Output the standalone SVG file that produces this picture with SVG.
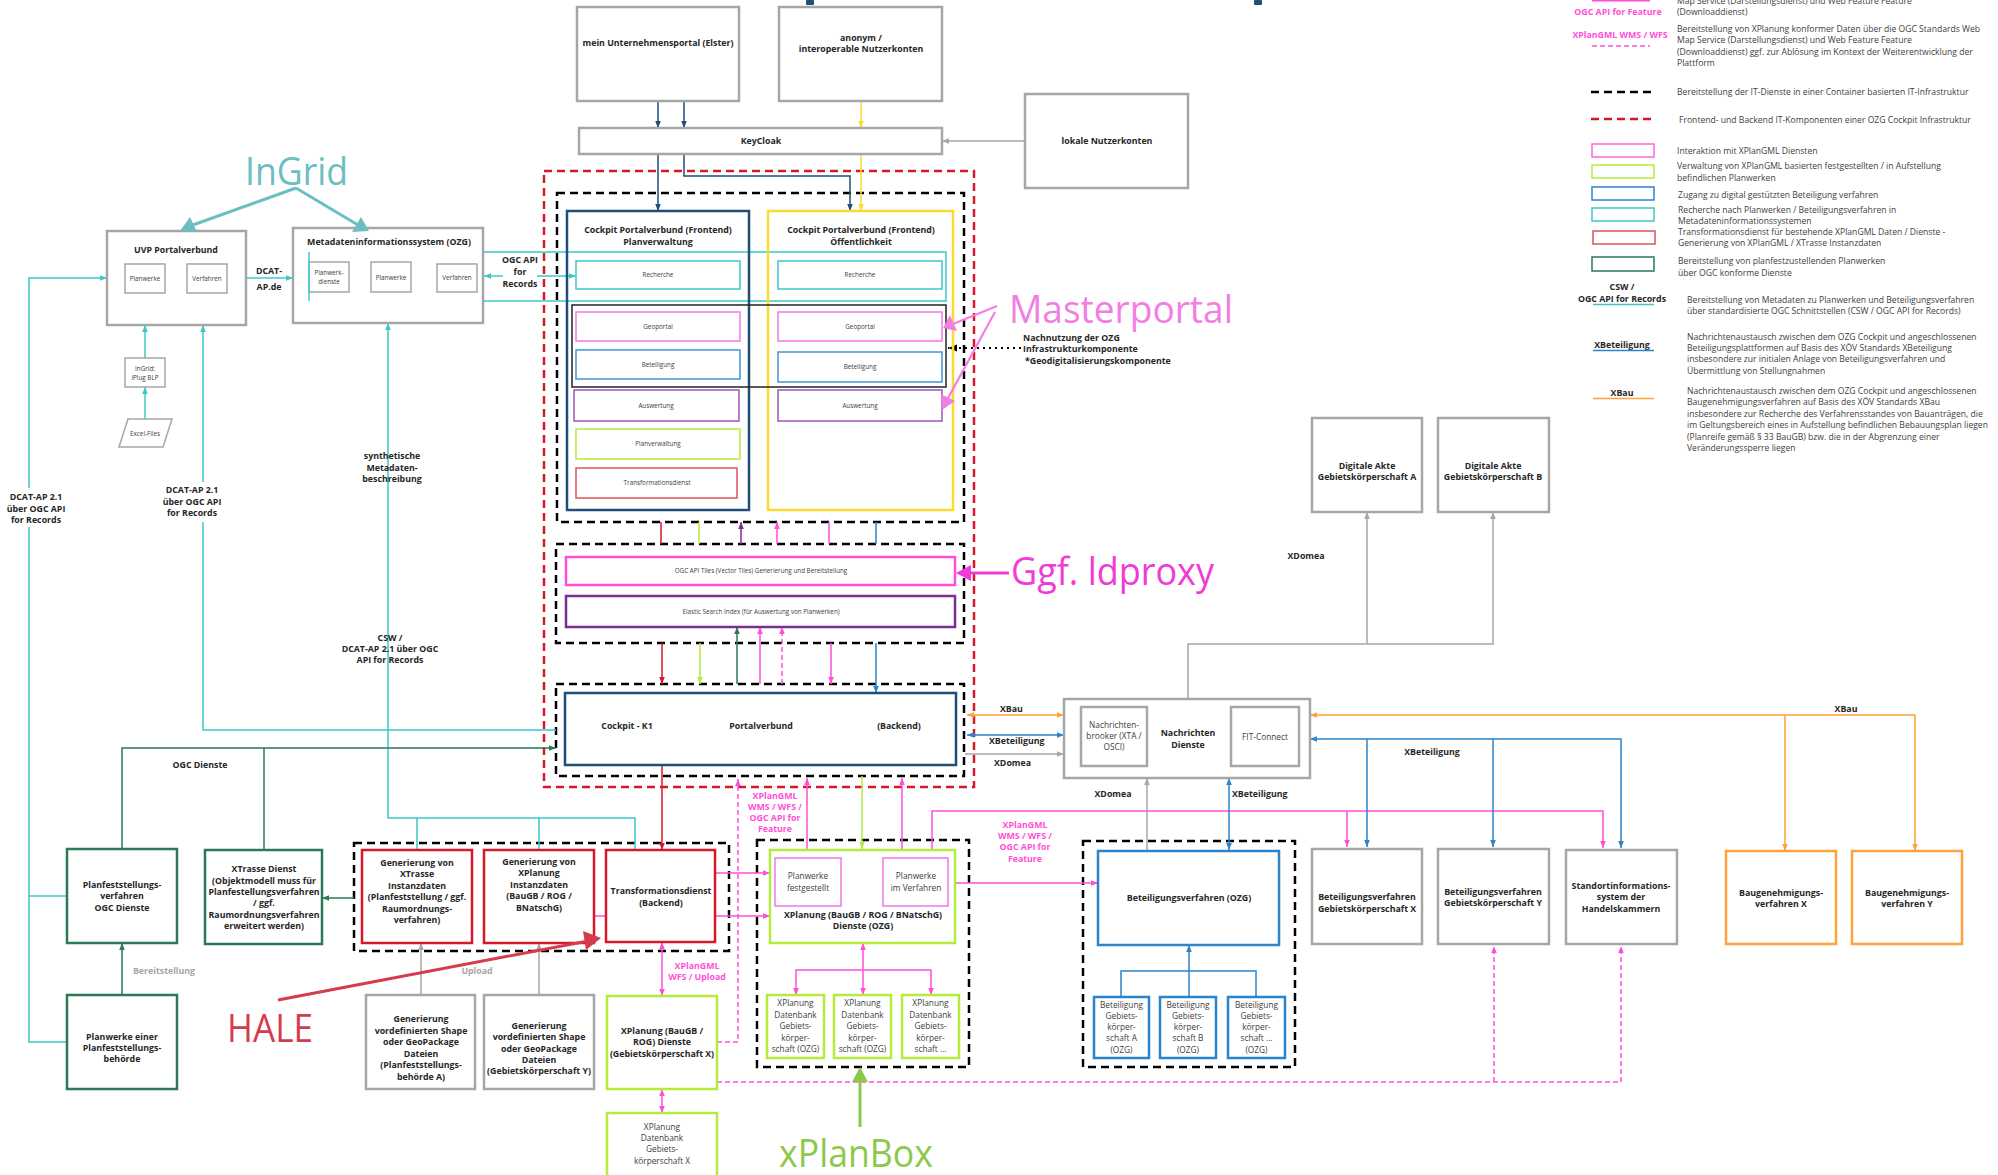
<svg xmlns="http://www.w3.org/2000/svg" width="1998" height="1175" viewBox="0 0 1998 1175">
<style>
text{font-family:"Open Sans","DejaVu Sans",sans-serif;fill:#262626}
.b{font-weight:700;font-size:8.8px;text-anchor:middle}
.bl{font-weight:700;font-size:8.8px}
.s{font-size:6.3px;text-anchor:middle;fill:#404040}
.m{font-size:8.3px;text-anchor:middle;fill:#404040}
.lg{font-size:8.6px;fill:#404040}
.mg{fill:#ff4fd8}
.gy{fill:#a6a6a6}
.box{fill:#fff;stroke-width:2.5}
.thin{fill:#fff;stroke-width:1.5}
.gray{stroke:#a6a6a6}
.db{stroke:#1f4e79}
.yel{stroke:#ffd92e}
.cy{stroke:#3cc8c8}
.pk{stroke:#f07ae6}
.mag{stroke:#ff4fd8}
.bl2{stroke:#2a85cc}
.pur{stroke:#9c55b5}
.lime{stroke:#b5ec3c}
.red{stroke:#d7182a}
.lred{stroke:#e0505f}
.grn{stroke:#2b7a57}
.org{stroke:#ffa23a}
.dash{fill:none;stroke:#000;stroke-width:2.5;stroke-dasharray:8,5}
.rdash{fill:none;stroke:#d7182a;stroke-width:2.5;stroke-dasharray:8,5}
.c{fill:none;stroke-width:1.5}
.big{font-size:38px}
</style>
<defs>
<marker id="aDB" viewBox="0 0 10 10" refX="10" refY="5" markerWidth="7" markerHeight="7" markerUnits="userSpaceOnUse" orient="auto-start-reverse"><path d="M0,1L10,5L0,9z" fill="#1f4e79"/></marker>
<marker id="aY" viewBox="0 0 10 10" refX="10" refY="5" markerWidth="7" markerHeight="7" markerUnits="userSpaceOnUse" orient="auto-start-reverse"><path d="M0,1L10,5L0,9z" fill="#ffd92e"/></marker>
<marker id="aG" viewBox="0 0 10 10" refX="10" refY="5" markerWidth="7" markerHeight="7" markerUnits="userSpaceOnUse" orient="auto-start-reverse"><path d="M0,1L10,5L0,9z" fill="#a6a6a6"/></marker>
<marker id="aC" viewBox="0 0 10 10" refX="10" refY="5" markerWidth="7" markerHeight="7" markerUnits="userSpaceOnUse" orient="auto-start-reverse"><path d="M0,1L10,5L0,9z" fill="#3cc8c8"/></marker>
<marker id="aM" viewBox="0 0 10 10" refX="10" refY="5" markerWidth="7" markerHeight="7" markerUnits="userSpaceOnUse" orient="auto-start-reverse"><path d="M0,1L10,5L0,9z" fill="#ff4fd8"/></marker>
<marker id="aR" viewBox="0 0 10 10" refX="10" refY="5" markerWidth="7" markerHeight="7" markerUnits="userSpaceOnUse" orient="auto-start-reverse"><path d="M0,1L10,5L0,9z" fill="#d7182a"/></marker>
<marker id="aL" viewBox="0 0 10 10" refX="10" refY="5" markerWidth="7" markerHeight="7" markerUnits="userSpaceOnUse" orient="auto-start-reverse"><path d="M0,1L10,5L0,9z" fill="#b5ec3c"/></marker>
<marker id="aP" viewBox="0 0 10 10" refX="10" refY="5" markerWidth="7" markerHeight="7" markerUnits="userSpaceOnUse" orient="auto-start-reverse"><path d="M0,1L10,5L0,9z" fill="#7b2f8f"/></marker>
<marker id="aDG" viewBox="0 0 10 10" refX="10" refY="5" markerWidth="7" markerHeight="7" markerUnits="userSpaceOnUse" orient="auto-start-reverse"><path d="M0,1L10,5L0,9z" fill="#2b7a57"/></marker>
<marker id="aB" viewBox="0 0 10 10" refX="10" refY="5" markerWidth="7" markerHeight="7" markerUnits="userSpaceOnUse" orient="auto-start-reverse"><path d="M0,1L10,5L0,9z" fill="#2a85cc"/></marker>
<marker id="aO" viewBox="0 0 10 10" refX="10" refY="5" markerWidth="7" markerHeight="7" markerUnits="userSpaceOnUse" orient="auto-start-reverse"><path d="M0,1L10,5L0,9z" fill="#ffa23a"/></marker>
<marker id="aK" viewBox="0 0 10 10" refX="10" refY="5" markerWidth="9" markerHeight="9" markerUnits="userSpaceOnUse" orient="auto-start-reverse"><path d="M0,1L10,5L0,9z" fill="#000"/></marker>
</defs>
<rect width="1998" height="1175" fill="#fff"/>
<rect x="806" y="0" width="8" height="5" rx="1" fill="#1f4e79"/>
<rect x="1254" y="0" width="8" height="5" rx="1" fill="#1f4e79"/>

<!-- containers -->
<g id="containers">
<rect class="rdash" x="544" y="171" width="430" height="616"/>
<rect class="dash" x="557" y="193" width="407" height="329"/>
<rect class="dash" x="556" y="544" width="408" height="99"/>
<rect class="dash" x="556" y="684" width="408" height="92"/>
<rect class="dash" x="354" y="843" width="375" height="108"/>
<rect class="dash" x="757" y="840" width="212" height="227"/>
<rect class="dash" x="1083" y="841" width="212" height="226"/>
</g>

<!-- connectors -->
<g id="connectors">
<path class="c db" d="M658,101V128" marker-end="url(#aDB)"/>
<path class="c db" d="M684,101V128" marker-end="url(#aDB)"/>
<path class="c yel" d="M861,101V128" marker-end="url(#aY)"/>
<path class="c gray" d="M1025,141H942" marker-end="url(#aG)"/>
<path class="c db" d="M658,154V211" marker-end="url(#aDB)"/>
<path class="c db" d="M684,154V176H850V211" marker-end="url(#aDB)"/>
<path class="c yel" d="M861,154V211" marker-end="url(#aY)"/>
<rect x="309" y="252" width="637" height="49" class="c cy"/>
<path class="c cy" d="M246,278H293" marker-end="url(#aC)"/>
<path class="c cy" d="M484,276H576" marker-start="url(#aC)" marker-end="url(#aC)"/>
<path class="c cy" d="M67,1042H29V278H107" marker-end="url(#aC)"/>
<path class="c cy" d="M29,896H67"/>
<path class="c cy" d="M145,419V387" marker-end="url(#aC)"/>
<path class="c cy" d="M145,358V325" marker-end="url(#aC)"/>
<path class="c cy" d="M556,730H203V325" marker-end="url(#aC)"/>
<path class="c cy" d="M635,850V818H388V323" marker-end="url(#aC)"/>
<path class="c cy" d="M417,818V850M539,818V850"/>
<path class="c grn" d="M122,849V748H556" marker-end="url(#aDG)"/>
<path class="c grn" d="M264,850V748"/>
<path class="c grn" d="M122,995V943" marker-end="url(#aDG)"/>
<path class="c grn" d="M354,898H322" marker-end="url(#aDG)"/>
<path class="c gray" d="M421,995V943" marker-end="url(#aG)"/>
<path class="c gray" d="M539,995V943" marker-end="url(#aG)"/>
<path class="c red" d="M661,522V544"/>
<path class="c lime" d="M699,522V544"/>
<path class="c" stroke="#7b2f8f" d="M741,544V522" marker-end="url(#aP)"/>
<path class="c mag" d="M777,544V522" marker-end="url(#aM)"/>
<path class="c mag" d="M829,522V544"/>
<path class="c bl2" d="M876,522V544"/>
<path class="c red" d="M662,643V684" marker-end="url(#aR)"/>
<path class="c lime" d="M700,643V684" marker-end="url(#aL)"/>
<path class="c grn" d="M737,684V627" marker-end="url(#aDG)"/>
<path class="c mag" d="M760,684V627" marker-end="url(#aM)"/>
<path class="c mag" stroke-dasharray="5,3" d="M782,684V627" marker-end="url(#aM)"/>
<path class="c mag" d="M831,643V684" marker-end="url(#aM)"/>
<path class="c bl2" d="M876,643V693" marker-end="url(#aB)"/>
<path class="c red" d="M662,765V850" marker-end="url(#aR)"/>
<path class="c mag" stroke-dasharray="5,3" d="M717,1042H738V779" marker-end="url(#aM)"/>
<path class="c mag" d="M807,858V778" marker-end="url(#aM)"/>
<path class="c mag" d="M902,858V778" marker-end="url(#aM)"/>
<path class="c lime" d="M862,776V849" marker-end="url(#aL)"/>
<path class="c mag" d="M715,873H770" marker-end="url(#aM)"/>
<path class="c mag" d="M715,916H770" marker-end="url(#aM)"/>
<path class="c mag" d="M594,916H606"/>
<path class="c mag" d="M662,942V996" marker-start="url(#aM)" marker-end="url(#aM)"/>
<path class="c mag" d="M662,1089V1113" marker-start="url(#aM)" marker-end="url(#aM)"/>
<path class="c mag" d="M932,858V811H1603V848" marker-end="url(#aM)"/>
<path class="c mag" d="M1347,811V847" marker-end="url(#aM)"/>
<path class="c mag" d="M948,883H1098" marker-end="url(#aM)"/>
<path class="c mag" stroke-dasharray="5,3" d="M717,1082H1621V946" marker-end="url(#aM)"/>
<path class="c mag" stroke-dasharray="5,3" d="M1494,1082V946" marker-end="url(#aM)"/>
<path class="c mag" d="M863,943V995" marker-start="url(#aM)" marker-end="url(#aM)"/>
<path class="c mag" d="M863,970H796V995" marker-end="url(#aM)"/>
<path class="c mag" d="M863,970H931V995" marker-end="url(#aM)"/>
<path class="c gray" d="M1188,699V644H1493V512" marker-end="url(#aG)"/>
<path class="c gray" d="M1367,644V512" marker-end="url(#aG)"/>
<path class="c org" d="M967,715H1064" marker-start="url(#aO)" marker-end="url(#aO)"/>
<path class="c bl2" d="M967,735H1064" marker-start="url(#aB)" marker-end="url(#aB)"/>
<path class="c gray" d="M965,754H1064" marker-end="url(#aG)"/>
<path class="c org" d="M1310,715H1915V851" marker-start="url(#aO)" marker-end="url(#aO)"/>
<path class="c org" d="M1785,715V851" marker-end="url(#aO)"/>
<path class="c bl2" d="M1310,739H1621V848" marker-start="url(#aB)" marker-end="url(#aB)"/>
<path class="c bl2" d="M1367,739V847" marker-end="url(#aB)"/>
<path class="c bl2" d="M1493,739V847" marker-end="url(#aB)"/>
<path class="c bl2" d="M1229,778V850" marker-start="url(#aB)" marker-end="url(#aB)"/>
<path class="c gray" d="M1147,851V778" marker-end="url(#aG)"/>
<path class="c bl2" d="M1121,997V971H1256V997"/>
<path class="c bl2" d="M1189,997V945" marker-end="url(#aB)"/>
<path fill="none" stroke="#000" stroke-width="2.2" stroke-dasharray="2,4" d="M1021,348H948" marker-end="url(#aK)"/>
</g>

<!-- connector labels -->
<g id="labels">
<text class="b" x="269" y="274">DCAT-</text><text class="b" x="269" y="290">AP.de</text>
<rect x="503" y="253" width="34" height="37" fill="#fff"/>
<text class="b" x="520" y="263">OGC API</text><text class="b" x="520" y="275">for</text><text class="b" x="520" y="287">Records</text>
<rect x="4" y="488" width="64" height="39" fill="#fff"/>
<text class="b" x="36" y="500">DCAT-AP 2.1</text><text class="b" x="36" y="512">über OGC API</text><text class="b" x="36" y="523">for Records</text>
<rect x="160" y="482" width="64" height="40" fill="#fff"/>
<text class="b" x="192" y="493">DCAT-AP 2.1</text><text class="b" x="192" y="505">über OGC API</text><text class="b" x="192" y="516">for Records</text>
<text class="b" x="392" y="459">synthetische</text><text class="b" x="392" y="471">Metadaten-</text><text class="b" x="392" y="482">beschreibung</text>
<text class="b" x="390" y="641">CSW /</text><text class="b" x="390" y="652">DCAT-AP 2.1 über OGC</text><text class="b" x="390" y="663">API for Records</text>
<text class="b" x="200" y="768">OGC Dienste</text>
<text class="b gy" x="164" y="974">Bereitstellung</text>
<text class="b gy" x="477" y="974">Upload</text>
<text class="b mg" x="775" y="799">XPlanGML</text><text class="b mg" x="775" y="810">WMS / WFS /</text><text class="b mg" x="775" y="821">OGC API for</text><text class="b mg" x="775" y="832">Feature</text>
<text class="b mg" x="697" y="969">XPlanGML</text><text class="b mg" x="697" y="980">WFS / Upload</text>
<text class="b mg" x="1025" y="828">XPlanGML</text><text class="b mg" x="1025" y="839">WMS / WFS /</text><text class="b mg" x="1025" y="850">OGC API for</text><text class="b mg" x="1025" y="862">Feature</text>
<text class="bl" x="1000" y="712">XBau</text>
<text class="bl" x="989" y="744">XBeteiligung</text>
<text class="bl" x="994" y="766">XDomea</text>
<text class="b" x="1306" y="559">XDomea</text>
<text class="b" x="1846" y="712">XBau</text>
<text class="b" x="1432" y="755">XBeteiligung</text>
<text class="bl" x="1232" y="797">XBeteiligung</text>
<text class="b" x="1113" y="797">XDomea</text>
<text class="bl" x="1023" y="341">Nachnutzung der OZG</text>
<text class="bl" x="1023" y="352">Infrastrukturkomponente</text>
<text class="bl" x="1025" y="364">*Geodigitalisierungskomponente</text>
</g>

<!-- nodes -->
<g id="elster"><rect class="box gray" x="577" y="7" width="162" height="94"/><text class="b" x="658" y="46">mein Unternehmensportal (Elster)</text></g>
<g id="anonym"><rect class="box gray" x="779" y="7" width="163" height="94"/><text class="b" x="861" y="41">anonym /</text><text class="b" x="861" y="52">interoperable Nutzerkonten</text></g>
<g id="keycloak"><rect class="box gray" x="579" y="128" width="363" height="26"/><text class="b" x="761" y="144">KeyCloak</text></g>
<g id="lokale"><rect class="box gray" x="1025" y="94" width="163" height="94"/><text class="b" x="1107" y="144">lokale Nutzerkonten</text></g>

<g id="uvp"><rect class="box gray" x="107" y="231" width="139" height="94"/><text class="b" x="176" y="253">UVP Portalverbund</text>
<rect class="thin gray" x="125" y="264" width="40" height="29"/><text class="s" x="145" y="281">Planwerke</text>
<rect class="thin gray" x="187" y="264" width="40" height="29"/><text class="s" x="207" y="281">Verfahren</text></g>
<g id="metadaten"><rect class="box gray" x="293" y="228" width="190" height="95"/><text class="b" x="389" y="245">Metadateninformationssystem (OZG)</text>
<rect class="thin gray" x="309" y="262" width="40" height="30"/><text class="s" x="329" y="275">Planwerk-</text><text class="s" x="329" y="284">dienste</text>
<rect class="thin gray" x="371" y="262" width="40" height="30"/><text class="s" x="391" y="280">Planwerke</text>
<rect class="thin gray" x="437" y="264" width="40" height="28"/><text class="s" x="457" y="280">Verfahren</text>
<path class="c cy" d="M309,252V301"/></g>
<g id="iplug"><rect class="thin gray" x="125" y="358" width="40" height="29"/><text class="s" x="145" y="371">InGrid:</text><text class="s" x="145" y="380">iPlug BLP</text></g>
<g id="excel"><polygon class="thin gray" points="128,419 172,419 163,447 119,447"/><text class="s" x="145" y="436">Excel-Files</text></g>

<g id="fe-plan"><rect class="box db" x="567" y="211" width="182" height="299" style="fill:none"/><text class="b" x="658" y="233">Cockpit Portalverbund (Frontend)</text><text class="b" x="658" y="245">Planverwaltung</text></g>
<g id="fe-oeff"><rect class="box yel" x="768" y="211" width="185" height="299" style="fill:none"/><text class="b" x="861" y="233">Cockpit Portalverbund (Frontend)</text><text class="b" x="861" y="245">Öffentlichkeit</text></g>
<g id="recherche"><rect class="thin cy" x="576" y="261" width="164" height="28"/><text class="s" x="658" y="277">Recherche</text>
<rect class="thin cy" x="778" y="261" width="164" height="28"/><text class="s" x="860" y="277">Recherche</text></g>
<g id="geo-group"><rect fill="none" stroke="#222" stroke-width="1.5" x="572" y="305" width="374" height="82"/></g>
<g id="geoportal"><rect class="thin pk" x="576" y="312" width="164" height="29"/><text class="s" x="658" y="329">Geoportal</text>
<rect class="thin pk" x="778" y="312" width="164" height="29"/><text class="s" x="860" y="329">Geoportal</text></g>
<g id="beteiligung"><rect class="thin" stroke="#3f95d4" x="576" y="350" width="164" height="29"/><text class="s" x="658" y="367">Beteiligung</text>
<rect class="thin" stroke="#3f95d4" x="778" y="352" width="164" height="30"/><text class="s" x="860" y="369">Beteiligung</text></g>
<g id="auswertung"><rect class="thin pur" x="574" y="390" width="165" height="31"/><text class="s" x="656" y="408">Auswertung</text>
<rect class="thin pur" x="778" y="390" width="164" height="31"/><text class="s" x="860" y="408">Auswertung</text></g>
<g id="planverwaltung"><rect class="thin lime" x="576" y="429" width="164" height="30"/><text class="s" x="658" y="446">Planverwaltung</text></g>
<g id="trans-fe"><rect class="thin lred" x="576" y="468" width="161" height="30"/><text class="s" x="657" y="485">Transformationsdienst</text></g>
<g id="tiles"><rect class="box mag" x="566" y="557" width="389" height="28"/><text class="s" x="761" y="573">OGC API Tiles (Vector Tiles) Generierung und Bereitstellung</text></g>
<g id="elastic"><rect class="box" stroke="#7b2f8f" x="566" y="596" width="389" height="31"/><text class="s" x="761" y="614">Elastic Search Index (für Auswertung von Planwerken)</text></g>
<g id="cockpit-k1"><rect class="box db" x="565" y="693" width="391" height="72"/><text class="b" x="627" y="729">Cockpit - K1</text><text class="b" x="761" y="729">Portalverbund</text><text class="b" x="899" y="729">(Backend)</text></g>

<g id="gen-xtrasse"><rect class="box red" x="362" y="850" width="110" height="93"/>
<text class="b" x="417" y="866">Generierung von</text><text class="b" x="417" y="877">XTrasse</text><text class="b" x="417" y="889">Instanzdaten</text><text class="b" x="417" y="900">(Planfeststellung / ggf.</text><text class="b" x="417" y="912">Raumordnungs-</text><text class="b" x="417" y="923">verfahren)</text></g>
<g id="gen-xplanung"><rect class="box red" x="484" y="850" width="110" height="93"/>
<text class="b" x="539" y="865">Generierung von</text><text class="b" x="539" y="876">XPlanung</text><text class="b" x="539" y="888">Instanzdaten</text><text class="b" x="539" y="899">(BauGB / ROG /</text><text class="b" x="539" y="911">BNatschG)</text></g>
<g id="trans-be"><rect class="box red" x="606" y="850" width="109" height="92"/><text class="b" x="661" y="894">Transformationsdienst</text><text class="b" x="661" y="906">(Backend)</text></g>
<g id="xtrasse-dienst"><rect class="box grn" x="205" y="850" width="117" height="94"/>
<text class="b" x="264" y="872">XTrasse Dienst</text><text class="b" x="264" y="884">(Objektmodell muss für</text><text class="b" x="264" y="895">Planfestellungsverfahren</text><text class="b" x="264" y="906">/ ggf.</text><text class="b" x="264" y="918">Raumordnungsverfahren</text><text class="b" x="264" y="929">erweitert werden)</text></g>
<g id="planfest"><rect class="box grn" x="67" y="849" width="110" height="94"/><text class="b" x="122" y="888">Planfeststellungs-</text><text class="b" x="122" y="899">verfahren</text><text class="b" x="122" y="911">OGC Dienste</text></g>
<g id="planwerke-behoerde"><rect class="box grn" x="67" y="995" width="110" height="94"/><text class="b" x="122" y="1040">Planwerke einer</text><text class="b" x="122" y="1051">Planfeststellungs-</text><text class="b" x="122" y="1062">behörde</text></g>
<g id="shape-a"><rect class="box gray" x="366" y="995" width="109" height="94"/>
<text class="b" x="421" y="1022">Generierung</text><text class="b" x="421" y="1034">vordefinierten Shape</text><text class="b" x="421" y="1045">oder GeoPackage</text><text class="b" x="421" y="1057">Dateien</text><text class="b" x="421" y="1068">(Planfeststellungs-</text><text class="b" x="421" y="1080">behörde A)</text></g>
<g id="shape-y"><rect class="box gray" x="484" y="995" width="110" height="94"/>
<text class="b" x="539" y="1029">Generierung</text><text class="b" x="539" y="1040">vordefinierten Shape</text><text class="b" x="539" y="1052">oder GeoPackage</text><text class="b" x="539" y="1063">Dateien</text><text class="b" x="539" y="1074">(Gebietskörperschaft Y)</text></g>
<g id="xplanung-x"><rect class="box lime" x="607" y="996" width="110" height="93"/><text class="b" x="662" y="1034">XPlanung  (BauGB /</text><text class="b" x="662" y="1045">ROG) Dienste</text><text class="b" x="662" y="1057">(Gebietskörperschaft X)</text></g>
<g id="xplanung-db-x"><rect class="box lime" x="607" y="1113" width="110" height="64"/><text class="m" x="662" y="1130">XPlanung</text><text class="m" x="662" y="1141">Datenbank</text><text class="m" x="662" y="1152">Gebiets-</text><text class="m" x="662" y="1164">körperschaft X</text></g>
<g id="xplanung-ozg"><rect class="box lime" x="770" y="850" width="185" height="93"/><text class="b" x="863" y="918">XPlanung  (BauGB / ROG / BNatschG)</text><text class="b" x="863" y="929">Dienste (OZG)</text></g>
<g id="pw-fest"><rect class="thin pk" x="775" y="858" width="66" height="48"/><text class="m" x="808" y="879">Planwerke</text><text class="m" x="808" y="891">festgestellt</text></g>
<g id="pw-verf"><rect class="thin pk" x="883" y="858" width="65" height="48"/><text class="m" x="916" y="879">Planwerke</text><text class="m" x="916" y="891">im Verfahren</text></g>
<g id="db1"><rect class="box lime" x="767" y="995" width="57" height="63"/><text class="m" x="795.5" y="1006">XPlanung</text><text class="m" x="795.5" y="1018">Datenbank</text><text class="m" x="795.5" y="1029">Gebiets-</text><text class="m" x="795.5" y="1041">körper-</text><text class="m" x="795.5" y="1052">schaft (OZG)</text></g>
<g id="db2"><rect class="box lime" x="834" y="995" width="57" height="63"/><text class="m" x="862.5" y="1006">XPlanung</text><text class="m" x="862.5" y="1018">Datenbank</text><text class="m" x="862.5" y="1029">Gebiets-</text><text class="m" x="862.5" y="1041">körper-</text><text class="m" x="862.5" y="1052">schaft (OZG)</text></g>
<g id="db3"><rect class="box lime" x="902" y="995" width="57" height="63"/><text class="m" x="930.5" y="1006">XPlanung</text><text class="m" x="930.5" y="1018">Datenbank</text><text class="m" x="930.5" y="1029">Gebiets-</text><text class="m" x="930.5" y="1041">körper-</text><text class="m" x="930.5" y="1052">schaft ...</text></g>

<g id="nachrichten"><rect class="box gray" x="1064" y="699" width="246" height="79"/><text class="b" x="1188" y="736">Nachrichten</text><text class="b" x="1188" y="748">Dienste</text>
<rect class="box gray" x="1081" y="707" width="66" height="59"/><text class="m" x="1114" y="728">Nachrichten-</text><text class="m" x="1114" y="739">brooker (XTA /</text><text class="m" x="1114" y="750">OSCI)</text>
<rect class="box gray" x="1231" y="707" width="68" height="59"/><text class="m" x="1265" y="740">FIT-Connect</text></g>
<g id="akte-a"><rect class="box gray" x="1312" y="418" width="110" height="94"/><text class="b" x="1367" y="469">Digitale Akte</text><text class="b" x="1367" y="480">Gebietskörperschaft A</text></g>
<g id="akte-b"><rect class="box gray" x="1438" y="418" width="111" height="94"/><text class="b" x="1493" y="469">Digitale Akte</text><text class="b" x="1493" y="480">Gebietskörperschaft B</text></g>
<g id="bet-ozg"><rect class="box bl2" x="1098" y="851" width="181" height="94"/><text class="b" x="1189" y="901">Beteiligungsverfahren (OZG)</text></g>
<g id="bet-a"><rect class="box bl2" x="1094" y="997" width="55" height="61"/><text class="m" x="1121.5" y="1008">Beteiligung</text><text class="m" x="1121.5" y="1019">Gebiets-</text><text class="m" x="1121.5" y="1030">körper-</text><text class="m" x="1121.5" y="1041">schaft A</text><text class="m" x="1121.5" y="1053">(OZG)</text></g>
<g id="bet-b"><rect class="box bl2" x="1160" y="997" width="56" height="61"/><text class="m" x="1188" y="1008">Beteiligung</text><text class="m" x="1188" y="1019">Gebiets-</text><text class="m" x="1188" y="1030">körper-</text><text class="m" x="1188" y="1041">schaft B</text><text class="m" x="1188" y="1053">(OZG)</text></g>
<g id="bet-n"><rect class="box bl2" x="1228" y="997" width="57" height="61"/><text class="m" x="1256.5" y="1008">Beteiligung</text><text class="m" x="1256.5" y="1019">Gebiets-</text><text class="m" x="1256.5" y="1030">körper-</text><text class="m" x="1256.5" y="1041">schaft ...</text><text class="m" x="1256.5" y="1053">(OZG)</text></g>
<g id="bet-x"><rect class="box gray" x="1312" y="849" width="110" height="95"/><text class="b" x="1367" y="900">Beteiligungsverfahren</text><text class="b" x="1367" y="912">Gebietskörperschaft X</text></g>
<g id="bet-y"><rect class="box gray" x="1438" y="849" width="111" height="95"/><text class="b" x="1493" y="895">Beteiligungsverfahren</text><text class="b" x="1493" y="906">Gebietskörperschaft Y</text></g>
<g id="standort"><rect class="box gray" x="1566" y="850" width="111" height="94"/><text class="b" x="1621" y="889">Standortinformations-</text><text class="b" x="1621" y="900">system der</text><text class="b" x="1621" y="912">Handelskammern</text></g>
<g id="bau-x"><rect class="box org" x="1726" y="851" width="110" height="93"/><text class="b" x="1781" y="896">Baugenehmigungs-</text><text class="b" x="1781" y="907">verfahren X</text></g>
<g id="bau-y"><rect class="box org" x="1852" y="851" width="110" height="93"/><text class="b" x="1907" y="896">Baugenehmigungs-</text><text class="b" x="1907" y="907">verfahren Y</text></g>

<!-- callouts -->
<g id="callouts">
<text class="big" x="245" y="185" textLength="103" lengthAdjust="spacingAndGlyphs" style="fill:#6bbec2">InGrid</text>
<path d="M296,188L190,226M296,188L358,225" stroke="#6bbec2" stroke-width="3" fill="none"/>
<polygon points="180,231 190,217 197,232" fill="#6bbec2"/>
<polygon points="369,231 352,232 361,217" fill="#6bbec2"/>
<text class="big" x="1009" y="323" textLength="224" lengthAdjust="spacingAndGlyphs" style="fill:#f27ee4">Masterportal</text>
<path d="M997,306L953,324M995,312L947,400" stroke="#f27ee4" stroke-width="2.2" fill="none"/>
<polygon points="943,328 950,315 957,331" fill="#f27ee4"/>
<polygon points="942,410 941,394 955,401" fill="#f27ee4"/>
<text class="big" x="1011" y="585" textLength="203" lengthAdjust="spacingAndGlyphs" style="fill:#f03bd6">Ggf. ldproxy</text>
<path d="M1009,573H966" stroke="#f03bd6" stroke-width="3"/>
<polygon points="956,573 971,565 971,581" fill="#f03bd6"/>
<text class="big" x="227" y="1042" textLength="86" lengthAdjust="spacingAndGlyphs" style="fill:#d63a4d">HALE</text>
<path d="M278,1000L588,941" stroke="#d63a4d" stroke-width="3"/>
<polygon points="601,938 583,931 586,950" fill="#d63a4d"/>
<text class="big" x="779" y="1167" textLength="154" lengthAdjust="spacingAndGlyphs" style="fill:#8cc84b">xPlanBox</text>
<path d="M860,1127V1080" stroke="#8cc84b" stroke-width="3"/>
<polygon points="860,1067 852,1082 868,1082" fill="#8cc84b"/>
</g>

<!-- legend -->
<g id="legend">
<line x1="1592" y1="0.5" x2="1650" y2="0.5" stroke="#ff4fd8" stroke-width="2"/>
<text class="lg" x="1677" y="4">Map Service  (Darstellungsdienst) und Web Feature Feature</text>
<text class="lg" x="1677" y="15">(Downloaddienst)</text>
<text class="b mg" x="1618" y="15">OGC API for Feature</text>
<text class="b mg" x="1620" y="38">XPlanGML WMS / WFS</text>
<line x1="1592" y1="46" x2="1650" y2="46" stroke="#ff4fd8" stroke-width="1.5" stroke-dasharray="5,3"/>
<text class="lg" x="1677" y="32">Bereitstellung von XPlanung konformer Daten über die OGC Standards Web</text>
<text class="lg" x="1677" y="43">Map Service  (Darstellungsdienst) und Web Feature Feature</text>
<text class="lg" x="1677" y="55">(Downloaddienst) ggf. zur Ablösung im Kontext der Weiterentwicklung der</text>
<text class="lg" x="1677" y="66">Plattform</text>
<line x1="1591" y1="92" x2="1652" y2="92" stroke="#000" stroke-width="2.5" stroke-dasharray="8,5"/>
<text class="lg" x="1677" y="95">Bereitstellung der IT-Dienste in einer Container basierten IT-Infrastruktur</text>
<line x1="1591" y1="119" x2="1652" y2="119" stroke="#d7182a" stroke-width="2.5" stroke-dasharray="8,5"/>
<text class="lg" x="1679" y="123">Frontend- und Backend IT-Komponenten einer OZG Cockpit Infrastruktur</text>
<rect class="thin" stroke="#ff66dd" x="1592" y="144" width="62" height="13"/>
<text class="lg" x="1677" y="154">Interaktion mit XPlanGML Diensten</text>
<rect class="thin lime" x="1592" y="165" width="62" height="13"/>
<text class="lg" x="1677" y="169">Verwaltung von XPlanGML basierten festgestellten / in Aufstellung</text>
<text class="lg" x="1677" y="181">befindlichen Planwerken</text>
<rect class="thin bl2" x="1592" y="187" width="62" height="13"/>
<text class="lg" x="1678" y="198">Zugang zu digital gestützten Beteiligung verfahren</text>
<rect class="thin cy" x="1592" y="208" width="62" height="13"/>
<text class="lg" x="1678" y="213">Recherche nach Planwerken / Beteiligungsverfahren in</text>
<text class="lg" x="1678" y="224">Metadateninformationssystemen</text>
<rect class="thin lred" x="1593" y="231" width="62" height="13"/>
<text class="lg" x="1678" y="235">Transformationsdienst für bestehende XPlanGML Daten / Dienste -</text>
<text class="lg" x="1678" y="246">Generierung von XPlanGML / XTrasse Instanzdaten</text>
<rect class="thin grn" x="1592" y="257" width="62" height="14"/>
<text class="lg" x="1678" y="264">Bereitstellung von planfestzustellenden Planwerken</text>
<text class="lg" x="1678" y="276">über OGC konforme Dienste</text>
<text class="b" x="1622" y="290">CSW /</text>
<text class="b" x="1622" y="302">OGC API for Records</text>
<line x1="1593" y1="304.5" x2="1654" y2="304.5" stroke="#3cc8c8" stroke-width="1.5"/>
<text class="lg" x="1687" y="303">Bereitstellung von Metadaten zu Planwerken und Beteiligungsverfahren</text>
<text class="lg" x="1687" y="314">über standardisierte OGC Schnittstellen (CSW / OGC API for Records)</text>
<text class="b" x="1622" y="348">XBeteiligung</text>
<line x1="1593" y1="350.5" x2="1654" y2="350.5" stroke="#2a85cc" stroke-width="1.5"/>
<text class="lg" x="1687" y="340">Nachrichtenaustausch zwischen dem OZG Cockpit und angeschlossenen</text>
<text class="lg" x="1687" y="351">Beteiligungsplattformen auf Basis des XÖV Standards XBeteiligung</text>
<text class="lg" x="1687" y="362">insbesondere zur initialen Anlage von Beteiligungsverfahren und</text>
<text class="lg" x="1687" y="374">Übermittlung von Stellungnahmen</text>
<text class="b" x="1622" y="396">XBau</text>
<line x1="1593" y1="398.5" x2="1654" y2="398.5" stroke="#ffa23a" stroke-width="1.5"/>
<text class="lg" x="1687" y="394">Nachrichtenaustausch zwischen dem OZG Cockpit und angeschlossenen</text>
<text class="lg" x="1687" y="405">Baugenehmigungsverfahren auf Basis des XÖV Standards XBau</text>
<text class="lg" x="1687" y="417">insbesondere zur Recherche des Verfahrensstandes von Bauanträgen, die</text>
<text class="lg" x="1687" y="428">im Geltungsbereich eines in Aufstellung befindlichen Bebauungsplan liegen</text>
<text class="lg" x="1687" y="440">(Planreife gemäß § 33 BauGB) bzw. die in der Abgrenzung einer</text>
<text class="lg" x="1687" y="451">Veränderungssperre liegen</text>
</g>
</svg>
